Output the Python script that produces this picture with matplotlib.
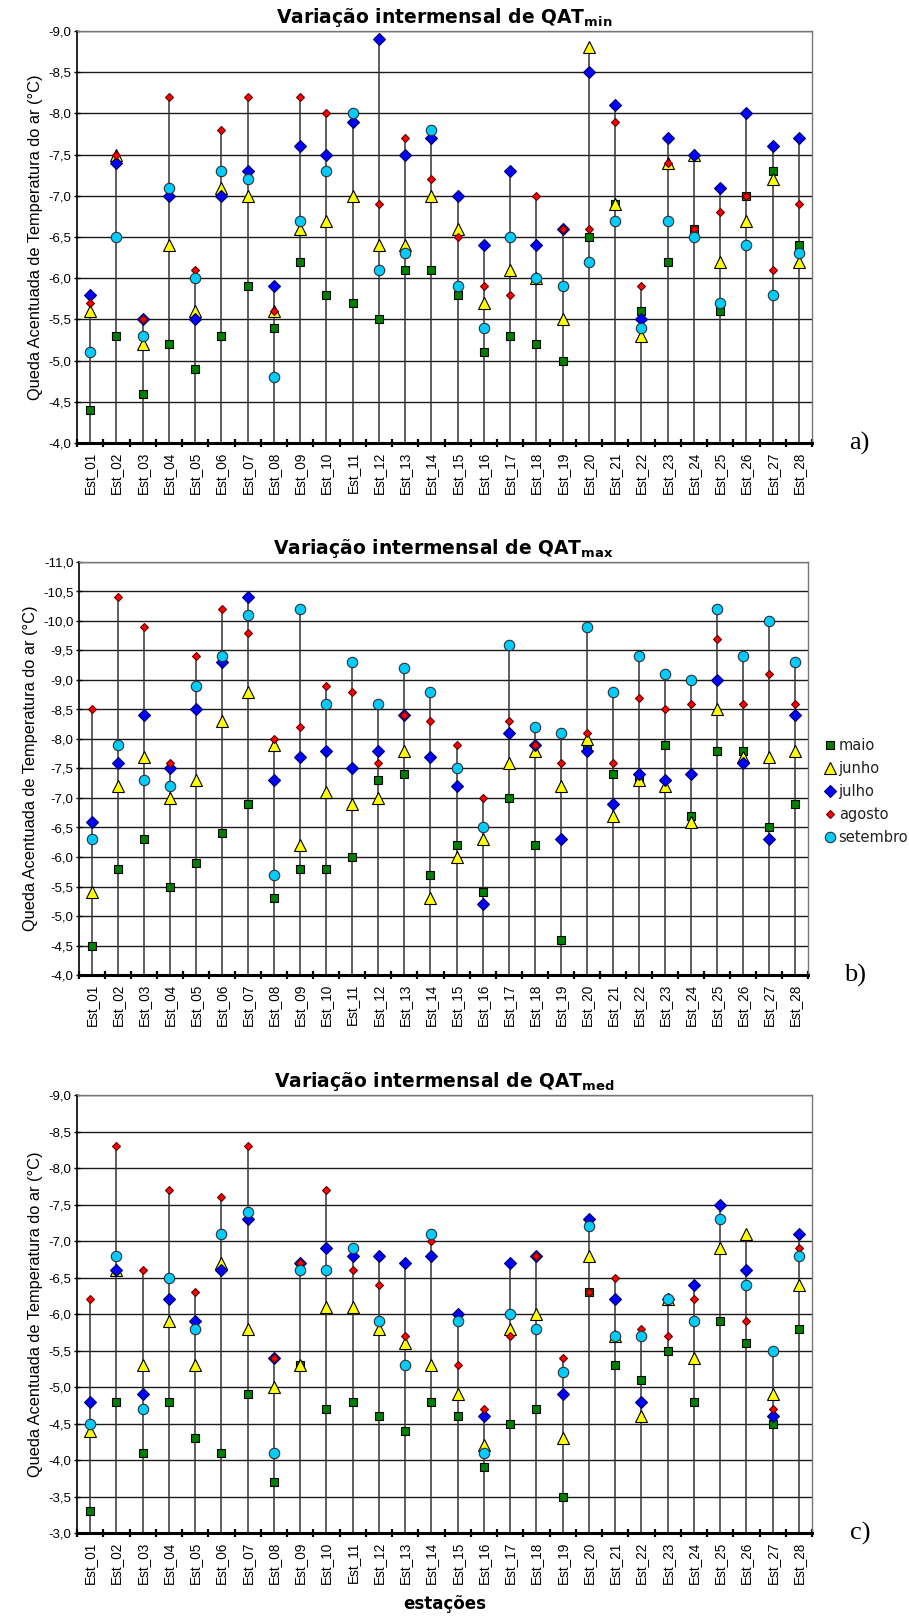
import matplotlib.pyplot as plt
import numpy as np

plt.rcParams['font.family'] = 'Liberation Sans'
plt.rcParams['mathtext.fontset'] = 'custom'
plt.rcParams['mathtext.bf'] = 'DejaVu Sans:bold'

estacoes = ['Est_%02d' % i for i in range(1, 29)]
meses = ['maio', 'junho', 'julho', 'agosto', 'setembro']

# QAT minima
min_maio = [-4.4, -5.3, -4.6, -5.2, -4.9, -5.3, -5.9, -5.4, -6.2, -5.8, -5.7, -5.5, -6.1, -6.1,
            -5.8, -5.1, -5.3, -5.2, -5.0, -6.5, -6.9, -5.6, -6.2, -6.6, -5.6, -7.0, -7.3, -6.4]
min_junho = [-5.6, -7.5, -5.2, -6.4, -5.6, -7.1, -7.0, -5.6, -6.6, -6.7, -7.0, -6.4, -6.4, -7.0,
             -6.6, -5.7, -6.1, -6.0, -5.5, -8.8, -6.9, -5.3, -7.4, -7.5, -6.2, -6.7, -7.2, -6.2]
min_julho = [-5.8, -7.4, -5.5, -7.0, -5.5, -7.0, -7.3, -5.9, -7.6, -7.5, -7.9, -8.9, -7.5, -7.7,
             -7.0, -6.4, -7.3, -6.4, -6.6, -8.5, -8.1, -5.5, -7.7, -7.5, -7.1, -8.0, -7.6, -7.7]
min_agosto = [-5.7, -7.5, -5.5, -8.2, -6.1, -7.8, -8.2, -5.6, -8.2, -8.0, -8.0, -6.9, -7.7, -7.2,
              -6.5, -5.9, -5.8, -7.0, -6.6, -6.6, -7.9, -5.9, -7.4, -6.6, -6.8, -7.0, -6.1, -6.9]
min_setembro = [-5.1, -6.5, -5.3, -7.1, -6.0, -7.3, -7.2, -4.8, -6.7, -7.3, -8.0, -6.1, -6.3, -7.8,
                -5.9, -5.4, -6.5, -6.0, -5.9, -6.2, -6.7, -5.4, -6.7, -6.5, -5.7, -6.4, -5.8, -6.3]

# QAT maxima
max_maio = [-4.5, -5.8, -6.3, -5.5, -5.9, -6.4, -6.9, -5.3, -5.8, -5.8, -6.0, -7.3, -7.4, -5.7,
            -6.2, -5.4, -7.0, -6.2, -4.6, -7.9, -7.4, -7.3, -7.9, -6.7, -7.8, -7.8, -6.5, -6.9]
max_junho = [-5.4, -7.2, -7.7, -7.0, -7.3, -8.3, -8.8, -7.9, -6.2, -7.1, -6.9, -7.0, -7.8, -5.3,
             -6.0, -6.3, -7.6, -7.8, -7.2, -8.0, -6.7, -7.3, -7.2, -6.6, -8.5, -7.7, -7.7, -7.8]
max_julho = [-6.6, -7.6, -8.4, -7.5, -8.5, -9.3, -10.4, -7.3, -7.7, -7.8, -7.5, -7.8, -8.4, -7.7,
             -7.2, -5.2, -8.1, -7.9, -6.3, -7.8, -6.9, -7.4, -7.3, -7.4, -9.0, -7.6, -6.3, -8.4]
max_agosto = [-8.5, -10.4, -9.9, -7.6, -9.4, -10.2, -9.8, -8.0, -8.2, -8.9, -8.8, -7.6, -8.4, -8.3,
              -7.9, -7.0, -8.3, -7.9, -7.6, -8.1, -7.6, -8.7, -8.5, -8.6, -9.7, -8.6, -9.1, -8.6]
max_setembro = [-6.3, -7.9, -7.3, -7.2, -8.9, -9.4, -10.1, -5.7, -10.2, -8.6, -9.3, -8.6, -9.2, -8.8,
                -7.5, -6.5, -9.6, -8.2, -8.1, -9.9, -8.8, -9.4, -9.1, -9.0, -10.2, -9.4, -10.0, -9.3]

# QAT media
med_maio = [-3.3, -4.8, -4.1, -4.8, -4.3, -4.1, -4.9, -3.7, -5.3, -4.7, -4.8, -4.6, -4.4, -4.8,
            -4.6, -3.9, -4.5, -4.7, -3.5, -6.3, -5.3, -5.1, -5.5, -4.8, -5.9, -5.6, -4.5, -5.8]
med_junho = [-4.4, -6.6, -5.3, -5.9, -5.3, -6.7, -5.8, -5.0, -5.3, -6.1, -6.1, -5.8, -5.6, -5.3,
             -4.9, -4.2, -5.8, -6.0, -4.3, -6.8, -5.7, -4.6, -6.2, -5.4, -6.9, -7.1, -4.9, -6.4]
med_julho = [-4.8, -6.6, -4.9, -6.2, -5.9, -6.6, -7.3, -5.4, -6.7, -6.9, -6.8, -6.8, -6.7, -6.8,
             -6.0, -4.6, -6.7, -6.8, -4.9, -7.3, -6.2, -4.8, -6.2, -6.4, -7.5, -6.6, -4.6, -7.1]
med_agosto = [-6.2, -8.3, -6.6, -7.7, -6.3, -7.6, -8.3, -5.4, -6.7, -7.7, -6.6, -6.4, -5.7, -7.0,
              -5.3, -4.7, -5.7, -6.8, -5.4, -6.3, -6.5, -5.8, -5.7, -6.2, -7.3, -5.9, -4.7, -6.9]
med_setembro = [-4.5, -6.8, -4.7, -6.5, -5.8, -7.1, -7.4, -4.1, -6.6, -6.6, -6.9, -5.9, -5.3, -7.1,
                -5.9, -4.1, -6.0, -5.8, -5.2, -7.2, -5.7, -5.7, -6.2, -5.9, -7.3, -6.4, -5.5, -6.8]

estilos = {
    'maio': dict(marker='s', ms=5.6, mfc='#008000', mec='black'),
    'junho': dict(marker='^', ms=8.0, mfc='#ffff00', mec='black'),
    'julho': dict(marker='D', ms=6.0, mfc='#0000ff', mec='#000060'),
    'agosto': dict(marker='D', ms=4.5, mfc='#ff0000', mec='#600000'),
    'setembro': dict(marker='o', ms=7.5, mfc='#00ccff', mec='#303030'),
}

W, H = 909, 1617
fig = plt.figure(figsize=(W / 100, H / 100), dpi=100)


def caixa(l, t, r, b):
    return [l / W, 1 - b / H, (r - l) / W, (b - t) / H]


def painel(ax, series, base, topo, sub, letra):
    x = np.arange(1, 29)
    dados = np.array(series)
    picos = dados.min(axis=0)
    ax.vlines(x, base, picos, color='#333333', lw=1.1, zorder=2)
    for nome, vals in zip(meses, series):
        ax.plot(x, vals, ls='none', mew=0.8, zorder=3, label=nome, **estilos[nome])
    ax.set_xlim(0.5, 28.5)
    ax.set_ylim(base, topo)
    yt = np.arange(base, topo - 0.01, -0.5)
    ax.set_yticks(yt)
    ax.set_yticklabels([('%.1f' % v).replace('.', ',') for v in yt], fontsize=9.5)
    ax.yaxis.grid(True, color='#1a1a1a', lw=1.0)
    ax.set_axisbelow(True)
    ax.set_xticks(x)
    ax.set_xticklabels(estacoes, rotation=90, fontsize=9.8)
    ax.set_xticks(np.arange(0.5, 29), minor=True)
    ax.tick_params(axis='x', which='major', length=0, pad=6)
    ax.tick_params(axis='x', which='minor', length=6, width=1.6, direction='inout')
    ax.tick_params(axis='y', length=4, width=1.0, direction='inout', pad=2)
    ax.spines['bottom'].set_linewidth(2.2)
    ax.spines['left'].set_linewidth(1.2)
    for s in ('top', 'right'):
        ax.spines[s].set_color('#777777')
        ax.spines[s].set_linewidth(1.0)
    ax.set_ylabel('Queda Acentuada de Temperatura do ar (°C)', fontsize=11.8, labelpad=4)
    ax.set_title('Variação intermensal de QAT$_\\mathbf{%s}$' % sub, fontsize=13.5,
                 fontweight='bold', family='DejaVu Sans', pad=6)
    ax.text(1.065, 0.0, letra, transform=ax.transAxes, fontsize=19,
            family='Liberation Serif', ha='center', va='center')


ax_a = fig.add_axes(caixa(77, 31, 812, 443))
painel(ax_a, [min_maio, min_junho, min_julho, min_agosto, min_setembro], -4.0, -9.0, 'min', 'a)')

ax_b = fig.add_axes(caixa(79, 562, 808, 975))
painel(ax_b, [max_maio, max_junho, max_julho, max_agosto, max_setembro], -4.0, -11.0, 'max', 'b)')

ax_c = fig.add_axes(caixa(77, 1095, 812, 1533))
painel(ax_c, [med_maio, med_junho, med_julho, med_agosto, med_setembro], -3.0, -9.0, 'med', 'c)')
ax_c.set_xlabel('estações', fontsize=12, fontweight='bold', family='DejaVu Sans', labelpad=8)

leg = ax_b.legend(loc='upper left', bbox_to_anchor=(1.0, 0.61), frameon=False,
                  prop={'family': 'DejaVu Sans', 'size': 10.5}, handletextpad=0.1,
                  handlelength=1.0, labelspacing=0.55, borderaxespad=0.6)
for t in leg.get_texts():
    t.set_color('#222222')

fig.savefig('out.png', dpi=100)
